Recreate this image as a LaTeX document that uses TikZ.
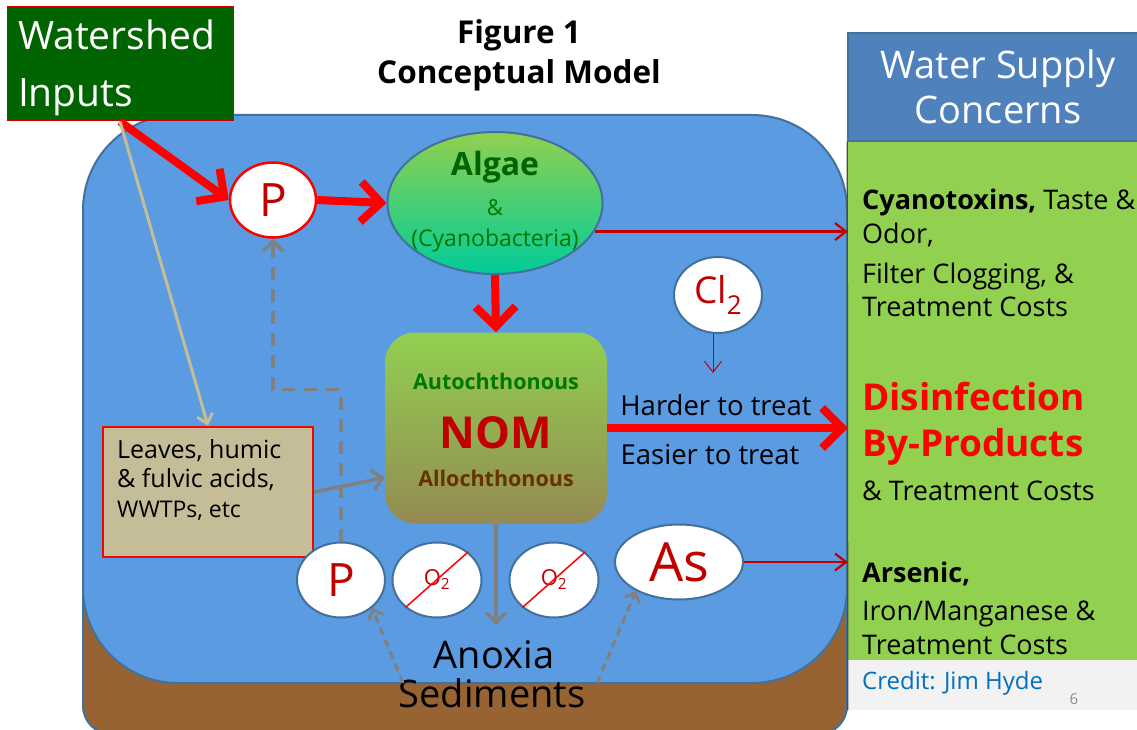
\documentclass[tikz,border=0pt]{standalone}
\usepackage{fontspec}
\setmainfont{Open Sans}
\usetikzlibrary{arrows.meta,shapes.geometric}

\definecolor{water}{RGB}{91,155,226}
\definecolor{waterline}{RGB}{65,113,156}
\definecolor{mud}{RGB}{151,99,51}
\definecolor{leafgreen}{RGB}{146,208,80}
\definecolor{deepgreen}{RGB}{0,100,0}
\definecolor{autogreen}{RGB}{0,120,0}
\definecolor{algaeteal}{RGB}{0,204,153}
\definecolor{headblue}{RGB}{79,129,189}
\definecolor{darkred}{RGB}{192,0,0}
\definecolor{dusttan}{RGB}{196,189,151}
\definecolor{nombrown}{RGB}{148,138,84}
\definecolor{allobrown}{RGB}{102,51,0}
\definecolor{creditblue}{RGB}{0,112,192}

\tikzset{
  bubble/.style={ellipse,draw=waterline,line width=2pt,fill=white,inner sep=0pt,
    minimum width=88pt,minimum height=75pt,text=darkred},
  bigred/.style={draw=red,line width=8pt,-{Straight Barb[length=20pt,width=40pt]}},
  thinred/.style={draw=darkred,line width=2.2pt,-{Straight Barb[length=11pt,width=17pt]}},
  grayarr/.style={draw=gray,line width=3.5pt,-{Straight Barb[length=10pt,width=20pt]}},
  graydash/.style={grayarr,dash pattern=on 13pt off 9pt},
  seepage/.style={draw=gray,line width=3pt,dash pattern=on 8pt off 5pt,
    -{Straight Barb[length=8pt,width=16pt]}},
  concern/.style={anchor=base west,inner sep=0pt,font=\fontsize{27}{32}\selectfont},
}

\begin{document}
\begin{tikzpicture}[x=1pt,y=-1pt]
\useasboundingbox (0,0) rectangle (1137,730);

\draw[fill=mud,draw=waterline,line width=2pt,rounded corners=28pt] (83,400) rectangle (847,734);
\draw[fill=water,draw=waterline,line width=2pt,rounded corners=95pt] (83,115) rectangle (847,683);

\node[fill=leafgreen,minimum width=300pt,minimum height=520pt,inner sep=0pt] (panel) at (998,400) {};
\node[fill=black!5,minimum width=300pt,minimum height=50pt,inner sep=0pt] (credbox) at (998,685) {};
\node[fill=headblue,draw=waterline,line width=1.5pt,minimum width=300pt,minimum height=108pt,inner sep=0pt,
  text=white,align=center,font=\fontsize{38}{45}\selectfont] (head) at (998,87) {Water Supply\\Concerns};
\draw[black!70,line width=1.2pt] (head.south west) -- (credbox.south west);

\node[fill=deepgreen,draw=red!80!black,line width=1pt,minimum width=226pt,minimum height=114pt,inner sep=0pt] (wsin) at (120,64) {};
\node[text width=204pt,align=left,text=white,inner sep=0pt,font=\fontsize{39}{57}\selectfont] (wstxt) at (120,68) {Watershed\\Inputs};
\node[align=center,font=\bfseries\fontsize{31.5}{40}\selectfont] (title) at (519,55) {Figure 1\\Conceptual Model};

\node[bubble,draw=red,line width=2.5pt,minimum width=86pt,font=\fontsize{46}{46}\selectfont] (ptop) at (273,200) {P};
\node[ellipse,draw=waterline,line width=2pt,top color=leafgreen,bottom color=algaeteal,
  minimum width=215pt,minimum height=142pt,inner sep=0pt] (algae) at (495,203) {};
\node[text=deepgreen,font=\bfseries\fontsize{32}{32}\selectfont] (algtxt) at (495,167) {Algae};
\node[text=autogreen,font=\fontsize{22}{22}\selectfont] (andtxt) at (495,208) {\&};
\node[text=autogreen,font=\fontsize{23}{23}\selectfont] (cyatxt) at (495,241) {(Cyanobacteria)};

\node[bubble,minimum height=76pt,font=\fontsize{37}{37}\selectfont] (cl) at (718,295) {Cl\raisebox{-0.3em}{\fontsize{26}{26}\selectfont 2}};

\node[draw=none,rounded corners=30pt,top color=leafgreen,bottom color=nombrown,
  minimum width=222pt,minimum height=191pt,inner sep=0pt] (nom) at (496,428) {};
\node[text=autogreen,font=\bfseries\fontsize{21.5}{21.5}\selectfont] (auto) at (496,381) {Autochthonous};
\node[text=darkred,font=\bfseries\fontsize{44}{44}\selectfont] (nomtxt) at (496,433) {NOM};
\node[text=allobrown,font=\bfseries\fontsize{21.5}{21.5}\selectfont] (allo) at (496,478) {Allochthonous};

\node[fill=dusttan,draw=red,line width=2.5pt,minimum width=210pt,minimum height=130pt,inner sep=0pt] (leaves) at (208,492) {};
\node[anchor=north west,inner sep=0pt,align=left,font=\fontsize{25}{29.5}\selectfont] (leaftxt) at (117,439)
  {Leaves, humic\\\& fulvic acids,\\{\fontsize{23}{29.5}\selectfont WWTPs, etc}};

\node[bubble,font=\fontsize{46}{46}\selectfont] (pbot) at (341,580) {P};
\node[bubble,minimum width=89pt,font=\fontsize{22}{22}\selectfont] (oxa) at (437,580) {O\textsubscript{2}};
\node[bubble,minimum width=89pt,font=\fontsize{22}{22}\selectfont] (oxb) at (554,580) {O\textsubscript{2}};
\node[bubble,minimum width=128pt,font=\fontsize{54}{54}\selectfont] (as) at (679,562) {As};
\draw[red,line width=1.5pt] (oxa.-139) -- (oxa.42);
\draw[red,line width=1.5pt] (oxb.-139) -- (oxb.42);

\node[font=\fontsize{38}{38}\selectfont] (anox) at (494,655) {Anoxia};
\node[font=\fontsize{38}{38}\selectfont] (sed) at (492,693) {Sediments};

\node[font=\fontsize{27.5}{27.5}\selectfont] (hard) at (716,405) {Harder to treat};
\node[font=\fontsize{27.5}{27.5}\selectfont] (easy) at (710,455) {Easier to treat};

\node[concern] (c1) at (862,210) {\textbf{Cyanotoxins,} Taste \&};
\node[concern] (c2) at (862,243) {Odor,};
\node[concern] (c3) at (862,283) {Filter Clogging, \&};
\node[concern] (c4) at (862,316) {Treatment Costs};
\node[concern,text=red,font=\bfseries\fontsize{37}{37}\selectfont] (c5) at (862,410) {Disinfection};
\node[concern,text=red,font=\bfseries\fontsize{37}{37}\selectfont] (c6) at (862,456) {By-Products};
\node[concern] (c7) at (862,500) {\& Treatment Costs};
\node[concern,font=\bfseries\fontsize{27}{32}\selectfont] (c8) at (862,582) {Arsenic,};
\node[concern] (c9) at (862,620) {Iron/Manganese \&};
\node[concern] (c10) at (862,654) {Treatment Costs};
\node[anchor=base west,inner sep=0pt,text=creditblue,font=\fontsize{24}{24}\selectfont] (credit) at (862,689) {Credit: Jim Hyde};
\node[text=black!45,font=\fontsize{15}{15}\selectfont] (pageno) at (1074,699) {6};

\coordinate (clend) at (713,373);
\coordinate (nomdown) at (496,625);
\coordinate (sedl) at (403,683);
\coordinate (sedr) at (597,683);

\draw[bigred] (wsin.south) -- (ptop.west);
\draw[bigred] (ptop.east) -- (algae.west);
\draw[bigred] (algae.south) -- (nom.north);
\draw[bigred] (nom.east) -- (nom.east -| panel.west);
\draw[thinred] (algae.-16) -- (algae.-16 -| panel.west);
\draw[thinred] (as.east) -- (as.east -| panel.west);
\draw[thinred,line width=1pt] (cl.south -| clend) -- (clend);
\draw[draw=dusttan,line width=3pt,-{Straight Barb[length=9pt,width=16pt]}] (wsin.south) -- (leaves.north);
\draw[grayarr] (leaves.east) -- (nom.204);
\draw[grayarr] (nom.south) -- (nomdown);
\draw[graydash] (pbot.north) -- ++(0,-152) -| (ptop.south);
\draw[seepage] (sedl) -- (pbot.-42);
\draw[seepage] (sedr) -- (as.214);
\end{tikzpicture}
\end{document}
